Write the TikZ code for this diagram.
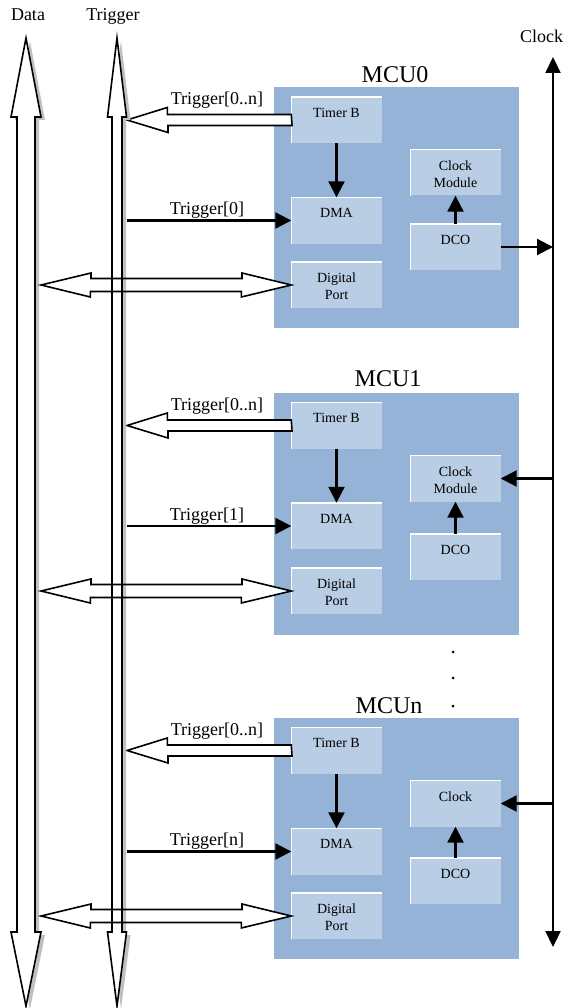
\documentclass[tikz,border=0pt]{standalone}
\usepackage{fontspec}
\setmainfont{Liberation Serif}
\usetikzlibrary{arrows.meta}
\definecolor{mcublue}{RGB}{149,179,215}
\definecolor{unitblue}{RGB}{185,205,229}
\definecolor{busgray}{RGB}{192,192,192}
\begin{document}
\begin{tikzpicture}[x=1pt, y=-1pt,
    mcu/.style={fill=mcublue, minimum width=245pt, inner sep=0pt},
    mcutitle/.style={anchor=base, inner sep=0pt, font=\fontsize{24}{28}\selectfont},
    unit/.style={fill=unitblue, minimum width=90pt, minimum height=46pt, inner sep=0pt},
    unittext/.style={anchor=north, inner sep=0pt, align=center, yshift=-11pt, font=\fontsize{14}{17}\selectfont},
    bevel/.style={draw=white, line width=1.5pt},
    lbl/.style={anchor=base, inner sep=0pt, font=\fontsize{18}{21}\selectfont},
    bus/.style={draw=black, fill=white, line width=1.6pt, line join=miter},
    busline/.style={draw=black, line width=1.6pt, line join=miter},
    sig/.style={line width=2.2pt, -{Triangle[length=16pt, width=16pt]}},
    clockbus/.style={line width=2.2pt, {Triangle[length=16pt, width=15pt]}-{Triangle[length=16pt, width=15pt]}}]
  \useasboundingbox (0,0) rectangle (562,1008);

  \coordinate (datbus) at (41,0);
  \coordinate (trigbus) at (127,0);
  \coordinate (clktop) at (553,57);
  \coordinate (clkbot) at (553,947);

  \node[lbl] (datlbl) at (28,21) {Data};
  \node[lbl] (triglbl) at (113,21) {Trigger};
  \node[lbl, anchor=base west] (clklbl) at (520,43) {Clock};

  \node[mcu, minimum height=241pt] (mcu0) at (396.5,207.5) {};
  \node[mcu, minimum height=242pt] (mcu1) at (396.5,514) {};
  \node[mcu, minimum height=241pt] (mcun) at (396.5,838.5) {};
  \node[mcutitle] (mcu0title) at (395,83) {MCU0};
  \node[mcutitle] (mcu1title) at (388,386) {MCU1};
  \node[mcutitle] (mcuntitle) at (389,713) {MCUn};

  \node[unit, label={[unittext]north:Timer B}] (tmr0) at (336.5,120) {};
  \node[unit, label={[unittext]north:DMA}] (dma0) at (336.5,220.5) {};
  \node[unit, label={[unittext]north:Digital\\Port}] (port0) at (336.5,285) {};
  \node[unit, label={[unittext]north:Clock\\Module}] (clk0) at (455.5,172.5) {};
  \node[unit, label={[unittext]north:DCO}] (dco0) at (455.5,247) {};

  \node[unit, label={[unittext]north:Timer B}] (tmr1) at (336.5,425.5) {};
  \node[unit, label={[unittext]north:DMA}] (dma1) at (336.5,526) {};
  \node[unit, label={[unittext]north:Digital\\Port}] (port1) at (336.5,591) {};
  \node[unit, label={[unittext]north:Clock\\Module}] (clk1) at (455.5,478.5) {};
  \node[unit, label={[unittext]north:DCO}] (dco1) at (455.5,557) {};

  \node[unit, label={[unittext]north:Timer B}] (tmrn) at (336.5,750.5) {};
  \node[unit, label={[unittext]north:DMA}] (dman) at (336.5,851.5) {};
  \node[unit, label={[unittext]north:Digital\\Port}] (portn) at (336.5,916) {};
  \node[unit, label={[unittext]north:Clock}] (clkn) at (455.5,803.5) {};
  \node[unit, label={[unittext]north:DCO}] (dcon) at (455.5,881) {};

  \foreach \u in {tmr0,dma0,port0,clk0,dco0,tmr1,dma1,port1,clk1,dco1,tmrn,dman,portn,clkn,dcon}
    \draw[bevel] (\u.south west) |- (\u.north east);

  \draw[sig] (tmr0.south) -- (dma0.north);
  \draw[sig] (dco0.north) -- (clk0.south);
  \draw[sig] (tmr1.south) -- (dma1.north);
  \draw[sig] (dco1.north) -- (clk1.south);
  \draw[sig] (tmrn.south) -- (dman.north);
  \draw[sig] (dcon.north) -- (clkn.south);

  \draw[clockbus] (clktop) -- (clkbot);
  \draw[sig] (dco0.east) -- (dco0.east -| clktop);
  \draw[sig] (clk1.east -| clktop) -- (clk1.east);
  \draw[sig] (clkn.east -| clktop) -- (clkn.east);
  \foreach \y in {652,678,706}
    \fill (453,\y) circle (1.5pt);

  \draw[bus] ([shift={(0,-5.5)}]tmr0.west) -- ++(-124,0) -- ++(0,-7) -- (trigbus |- tmr0.west) -- ++(41,12.5) -- ++(0,-7) -- ++(124,0) -- cycle;
  \draw[bus] ([shift={(0,-5.5)}]tmr1.west) -- ++(-124,0) -- ++(0,-7) -- (trigbus |- tmr1.west) -- ++(41,12.5) -- ++(0,-7) -- ++(124,0) -- cycle;
  \draw[bus] ([shift={(0,-5.5)}]tmrn.west) -- ++(-124,0) -- ++(0,-7) -- (trigbus |- tmrn.west) -- ++(41,12.5) -- ++(0,-7) -- ++(124,0) -- cycle;
  \node[lbl] (trg0lbl) at (217,105) {Trigger[0..n]};
  \node[lbl] (trg1lbl) at (217,410.5) {Trigger[0..n]};
  \node[lbl] (trgnlbl) at (217,735.5) {Trigger[0..n]};

  \draw[sig] (trigbus |- dma0.west) -- (dma0.west);
  \draw[sig] (trigbus |- dma1.west) -- (dma1.west);
  \draw[sig] (trigbus |- dman.west) -- (dman.west);
  \node[lbl] (dma0lbl) at (207,214.5) {Trigger[0]};
  \node[lbl] (dma1lbl) at (207,520) {Trigger[1]};
  \node[lbl] (dmanlbl) at (207,845.5) {Trigger[n]};

  \foreach \p in {port0,port1,portn}
    \fill[white] (datbus |- \p.west) -- ++(50,-12) -- ++(0,5.5) -- ++(151,0) -- ++(0,-5.5) -- (\p.west) -- ++(-50,12) -- ++(0,-5.5) -- ++(-151,0) -- ++(0,5.5) -- cycle;

  \foreach \cx/\sw/\hw in {26/9/15, 117/5/9.5} {
    \fill[busgray, shift={(4,3)}] (\cx-\sw,117) -- (\cx-\hw,117) -- (\cx,38) -- (\cx+\hw,117) -- (\cx+\sw,117) -- (\cx+\sw,932) -- (\cx+\hw,932) -- (\cx,1006) -- (\cx-\hw,932) -- (\cx-\sw,932) -- cycle;
    \draw[bus] (\cx-\sw,117) -- (\cx-\hw,117) -- (\cx,38) -- (\cx+\hw,117) -- (\cx+\sw,117) -- (\cx+\sw,932) -- (\cx+\hw,932) -- (\cx,1006) -- (\cx-\hw,932) -- (\cx-\sw,932) -- cycle;
  }

  \foreach \p in {port0,port1,portn}
    \draw[busline] (datbus |- \p.west) -- ++(50,-12) -- ++(0,5.5) -- ++(151,0) -- ++(0,-5.5) -- (\p.west) -- ++(-50,12) -- ++(0,-5.5) -- ++(-151,0) -- ++(0,5.5) -- cycle;
\end{tikzpicture}
\end{document}
